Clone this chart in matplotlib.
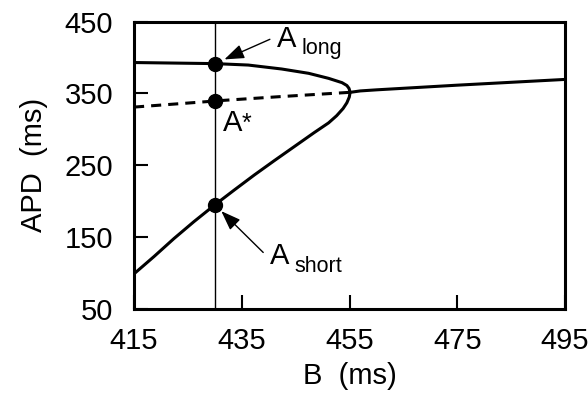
import numpy as np
import matplotlib
matplotlib.use('Agg')
import matplotlib.pyplot as plt

# Use an Arial-like font
plt.rcParams['font.family'] = ['Liberation Sans', 'DejaVu Sans']

# Alternans branch (A_short below, A_long above, meeting at the bifurcation)
alt_B = [415, 418.7, 422.4, 426.1, 430, 433.6, 437.3, 441.0, 444.7, 448.4, 451.1,
         452.6, 453.8, 454.5, 454.95, 455.1, 454.9, 454.5, 453.6, 451.1, 447.4,
         442.4, 436.2, 430, 415]
alt_APD = [99, 123, 148, 171.5, 195, 215.6, 236.4, 256.3, 275.8, 295.3, 309,
           319, 329, 337, 345, 351.5, 357, 361, 365, 371, 378,
           384, 389.5, 391.5, 393]

# Unstable period-1 branch (dashed)
unst_B = [415, 431.9, 442, 455]
unst_APD = [331, 340.5, 345.5, 351.5]

# Stable period-1 branch past the bifurcation
stab_B = [455.1, 457, 460, 475, 495]
stab_APD = [351.5, 353.5, 355, 361.5, 369.5]

# Chosen B and the three APD values at it
B0 = 430
A_long = 391.5
A_star = 340
A_short = 195

x_ticks = [415, 435, 455, 475, 495]
y_ticks = [50, 150, 250, 350, 450]

fig = plt.figure(figsize=(5.88, 4.01), dpi=100)
ax = fig.add_axes([0.228, 0.2294, 0.733, 0.7168])

ax.plot(alt_B, alt_APD, color='black', lw=2.2, solid_joinstyle='round')
ax.plot(unst_B, unst_APD, color='black', lw=2.2, linestyle=(0, (3.3, 2.3)))
ax.plot(stab_B, stab_APD, color='black', lw=2.2, solid_joinstyle='round')
ax.axvline(B0, color='black', lw=1.0)

ax.plot([B0, B0, B0], [A_long, A_star, A_short], 'o', color='black',
        markersize=10, clip_on=False, zorder=5)

ax.set_xlim(415, 495)
ax.set_ylim(50, 450)
ax.set_xticks(x_ticks)
ax.set_yticks(y_ticks)
ax.tick_params(direction='in', length=10, width=1.5, labelsize=21)
ax.tick_params(axis='x', pad=13)
ax.tick_params(axis='y', pad=15)
for s in ax.spines.values():
    s.set_linewidth(2.2)

ax.set_xlabel('B  (ms)', fontsize=21, labelpad=5)
ax.set_ylabel('APD  (ms)', fontsize=21, labelpad=12)

# Labels and arrows, offsets in points from the markers
arrow = dict(arrowstyle='-|>,head_length=0.6,head_width=0.22', color='black',
             lw=1.0, mutation_scale=20, shrinkA=0, shrinkB=7.5)

ax.annotate('', xy=(B0, A_long), xytext=(39.6, 17.5), textcoords='offset points',
            arrowprops=arrow)
ax.annotate('A', xy=(B0, A_long), xytext=(44.4, 12), textcoords='offset points',
            fontsize=21, va='baseline', ha='left')
ax.annotate('long', xy=(B0, A_long), xytext=(62.3, 7.2), textcoords='offset points',
            fontsize=15.5, va='baseline', ha='left')

ax.annotate('A', xy=(B0, A_star), xytext=(6, -22.1), textcoords='offset points',
            fontsize=21, va='baseline', ha='left')
ax.annotate('*', xy=(B0, A_star), xytext=(19.2, -21.5), textcoords='offset points',
            fontsize=18, va='baseline', ha='left')

ax.annotate('', xy=(B0, A_short), xytext=(34.8, -34.3), textcoords='offset points',
            arrowprops=dict(arrow, shrinkB=6.5))
ax.annotate('A', xy=(B0, A_short), xytext=(39.6, -42.7), textcoords='offset points',
            fontsize=21, va='baseline', ha='left')
ax.annotate('short', xy=(B0, A_short), xytext=(57.6, -48.2), textcoords='offset points',
            fontsize=15.5, va='baseline', ha='left')

fig.savefig('out.png', dpi=100)
